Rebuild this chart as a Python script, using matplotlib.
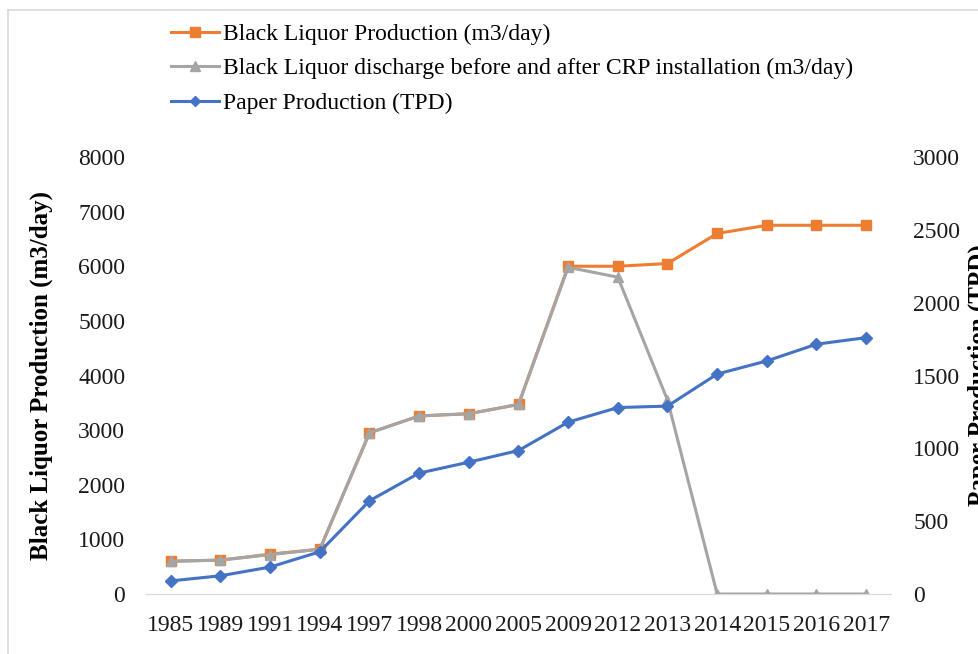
import matplotlib.pyplot as plt
from matplotlib.lines import Line2D

plt.rcParams["font.family"] = ["Liberation Serif", "DejaVu Serif"]

years = ["1985", "1989", "1991", "1994", "1997", "1998", "2000", "2005",
         "2009", "2012", "2013", "2014", "2015", "2016", "2017"]
black_liquor = [600, 620, 730, 820, 2950, 3260, 3300, 3470,
                6000, 6000, 6050, 6600, 6750, 6750, 6750]
discharge = [600, 620, 720, 820, 2950, 3260, 3300, 3470,
             5980, 5800, 3550, 0, 0, 0, 0]
paper = [90, 125, 185, 290, 640, 830, 905, 985,
         1180, 1280, 1290, 1510, 1600, 1715, 1760]

ORANGE = "#ED7D31"
GRAY = "#A5A5A5"
BLUE = "#4472C4"

fig = plt.figure(figsize=(9.79, 6.54), dpi=100)
ax = fig.add_axes([146 / 979, 1 - 594 / 654, (891 - 146) / 979, (594 - 157) / 654])
ax2 = ax.twinx()

x = list(range(len(years)))
ax.plot(x, black_liquor, color=ORANGE, lw=2.2, marker="s", ms=7, zorder=2,
        label="Black Liquor Production (m3/day)")
ax.plot(x, discharge, color=GRAY, lw=2.2, marker="^", ms=7, zorder=3,
        label="Black Liquor discharge before and after CRP installation (m3/day)")
ax2.plot(x, paper, color=BLUE, lw=2.2, marker="D", ms=6,
         label="Paper Production (TPD)")

ax.set_xlim(-0.5, len(years) - 0.5)
ax.set_ylim(0, 8000)
ax2.set_ylim(0, 3000)
ax.set_yticks(range(0, 8001, 1000))
ax2.set_yticks(range(0, 3001, 500))
ax.set_xticks(x)
ax.set_xticklabels(years)

for a in (ax, ax2):
    for side in ("top", "left", "right"):
        a.spines[side].set_visible(False)
    a.spines["bottom"].set_color("#D9D9D9")
    a.tick_params(length=0, labelsize=17, colors="#1a1a1a")
ax.tick_params(axis="y", pad=15)
ax2.tick_params(axis="y", pad=16)
ax.tick_params(axis="x", pad=15)

ax.set_ylabel("Black Liquor Production (m3/day)", fontsize=18, fontweight="bold",
              labelpad=18)
ax2.set_ylabel("Paper Production (TPD)", fontsize=18, fontweight="bold",
               labelpad=5)

# legend above the plot
handles = [
    Line2D([], [], color=ORANGE, lw=2.2, marker="s", ms=7),
    Line2D([], [], color=GRAY, lw=2.2, marker="^", ms=7),
    Line2D([], [], color=BLUE, lw=2.2, marker="D", ms=5),
]
labels = ["Black Liquor Production (m3/day)",
          "Black Liquor discharge before and after CRP installation (m3/day)",
          "Paper Production (TPD)"]
fig.legend(handles, labels, loc="upper left", bbox_to_anchor=(162 / 979, 1 - 14 / 654),
           frameon=False, fontsize=17, handlelength=2.0, handletextpad=0.2,
           labelspacing=0.55, borderaxespad=0)

# chart area border (top and left edges)
fig.add_artist(Line2D([8 / 979, 1], [1 - 10 / 654, 1 - 10 / 654], color="#D9D9D9", lw=1.2))
fig.add_artist(Line2D([8 / 979, 8 / 979], [0, 1 - 10 / 654], color="#D9D9D9", lw=1.2))

fig.savefig("out.png", dpi=100, facecolor="white")
